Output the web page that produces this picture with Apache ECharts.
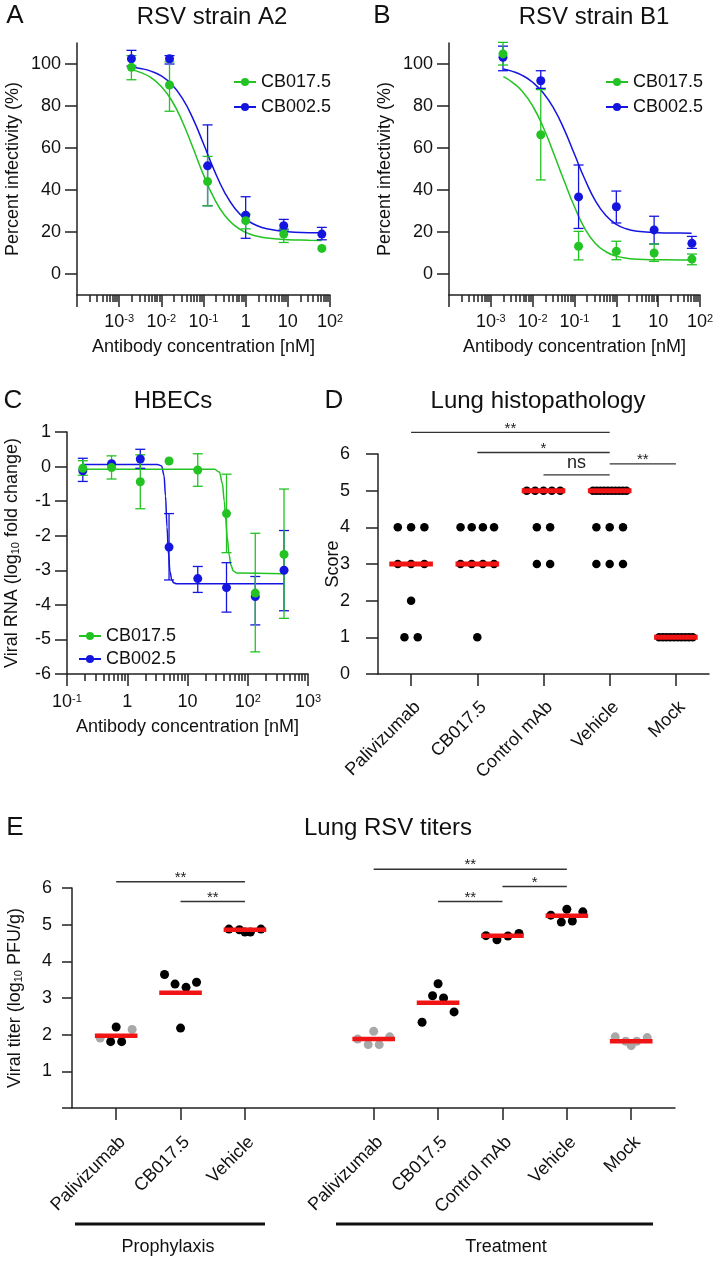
<!DOCTYPE html>
<html><head><meta charset="utf-8">
<script src="https://cdn.jsdelivr.net/npm/echarts@6/dist/echarts.min.js"></script>
<style>html,body{margin:0;padding:0;background:#fff}#chart{width:714px;height:1262px}</style>
</head><body><div id="chart"></div>
<script>
// ================= DATA =================
// Panels A/B – antibody concentration (nM), 8-fold dilution series
const concAB = [0.001953, 0.015625, 0.125, 1, 8, 64];
// A – RSV strain A2 (percent infectivity)
const a2CB0175   = [98.4, 90.0, 44.0, 25.4, 19.0, 12.2];
const a2CB0175Lo = [92.5, 77.5, 32.5, 21.5, 15.0, null];
const a2CB0175Hi = [104.0, 101.0, 56.0, 28.5, 21.5, null];
const a2CB0025   = [102.5, 102.5, 51.5, 28.0, 23.0, 19.0];
const a2CB0025Lo = [99.0, 100.0, 32.5, 17.0, 21.0, 16.3];
const a2CB0025Hi = [106.5, 104.0, 71.0, 36.8, 26.0, 22.2];
// B – RSV strain B1
const b1CB0175   = [104.8, 66.3, 13.2, 10.8, 10.0, 7.1];
const b1CB0175Lo = [99.5, 44.8, 6.7, 6.8, 6.0, 4.4];
const b1CB0175Hi = [110.3, 87.8, 20.3, 15.6, 14.3, 9.5];
const b1CB0025   = [103.2, 92.0, 36.7, 32.0, 21.0, 14.6];
const b1CB0025Lo = [96.8, 88.4, 21.7, 24.3, 14.3, 12.2];
const b1CB0025Hi = [108.5, 96.8, 51.9, 39.5, 27.5, 17.9];
// fitted curves (log10 nM, %)
const fitLogConcAB = [-2.7,-2.5,-2.25,-2,-1.75,-1.5,-1.25,-1,-0.75,-0.5,-0.25,0,0.25,0.5,1,1.5,1.8];
const a2FitCB0175 = [97.2,96.0,93.6,89.3,82.5,72.5,60.1,47.2,36.1,28.0,22.9,19.8,18.1,17.1,16.3,16.1,16.0];
const a2FitCB0025 = [98.6,97.9,96.6,94.3,90.2,83.6,74.0,62.0,49.6,38.9,31.1,26.1,23.2,21.5,20.1,19.7,19.6];
const b1FitCB0175 = [94.0,91.5,87.0,80.0,70.0,57.5,44.5,32.0,21.5,14.5,10.6,8.5,7.5,7.0,6.8,6.7,6.7];
const b1FitCB0025 = [97.6,96.6,94.6,91.3,86.3,79.0,69.0,57.0,45.0,34.8,27.8,23.6,21.4,20.4,19.7,19.5,19.4];

// C – HBECs, 3-fold dilution series (nM), viral RNA log10 fold change
const concC = [0.183, 0.549, 1.646, 4.94, 14.8, 44.4, 133.3, 400];
const hbecCB0175   = [-0.05, -0.03, -0.44, 0.16, -0.10, -1.36, -3.66, -2.54];
const hbecCB0175Lo = [-0.25, -0.36, -1.22, null, -0.57, -2.49, -5.36, -4.39];
const hbecCB0175Hi = [0.17, 0.31, 0.34, null, 0.37, -0.22, -1.93, -0.65];
const hbecCB0025   = [-0.12, 0.08, 0.22, -2.33, -3.24, -3.50, -3.76, -3.00];
const hbecCB0025Lo = [-0.43, null, -0.05, -3.28, -3.64, -4.21, -4.58, -4.17];
const hbecCB0025Hi = [0.24, null, 0.50, -1.36, -2.89, -2.78, -3.18, -1.85];
const hbecFitLogCB0175 = [-0.74, 1.45, 1.53, 1.58, 1.61, 1.635, 1.66, 1.69, 1.72, 1.76, 1.82, 2.6];
const hbecFitCB0175    = [-0.08, -0.08, -0.16, -0.5, -1.0, -1.55, -2.05, -2.55, -2.85, -3.02, -3.08, -3.1];
const hbecFitLogCB0025 = [-0.74, 0.5, 0.57, 0.61, 0.635, 0.66, 0.685, 0.71, 0.74, 0.77, 0.82, 2.6];
const hbecFitCB0025    = [0.06, 0.06, 0.02, -0.25, -0.85, -1.75, -2.55, -3.05, -3.28, -3.36, -3.39, -3.39];

// D – lung histopathology scores (one value per animal)
const dCategories = ['Palivizumab', 'CB017.5', 'Control mAb', 'Vehicle', 'Mock'];
const dPalivizumab = [4,4,4,3,3,3,2,1,1];
const dCB0175      = [4,4,4,4,3,3,3,3,1];
const dControlMAb  = [5,5,5,5,5,4,4,3,3];
const dVehicle     = [5,5,5,5,5,5,5,5,5,5,4,4,4,3,3,3];
const dMock        = [1,1,1,1,1,1,1,1,1,1];
const dMedians     = [3, 3, 5, 5, 1];
const dBrackets = [
  {from:0, to:3, y:6.59, label:'**'},
  {from:1, to:3, y:6.04, label:'*'},
  {from:2, to:3, y:5.43, label:'ns'},
  {from:3, to:4, y:5.73, label:'**'}
];

// E – lung RSV titers (log10 PFU/g); slot 3 is the gap between the two groups
const eCategories = ['Palivizumab','CB017.5','Vehicle','','Palivizumab','CB017.5','Control mAb','Vehicle','Mock'];
const eProphPalivizumab = [1.91, 1.81, 2.21, 1.81, 2.14];
const eProphPalivizumabBelowLimit = [true, false, false, false, true];
const eProphCB0175  = [3.64, 3.38, 2.18, 3.29, 3.43];
const eProphVehicle = [4.88, 4.86, 4.80, 4.80, 4.88];
const eTreatPalivizumab = [1.88, 1.73, 2.09, 1.73, 1.94];
const eTreatPalivizumabBelowLimit = [true, true, true, true, true];
const eTreatCB0175  = [2.34, 3.06, 3.39, 3.00, 2.62];
const eTreatControl = [4.70, 4.59, 4.69, 4.76];
const eTreatVehicle = [5.26, 5.07, 5.42, 5.10, 5.35];
const eTreatMock    = [1.94, 1.82, 1.70, 1.82, 1.92];
const eTreatMockBelowLimit = [true, true, true, true, true];
const eMeans = [1.97, 3.14, 4.86, null, 1.88, 2.87, 4.70, 5.24, 1.82];
const eBrackets = [
  {from:0, to:2, y:6.17, label:'**'},
  {from:1, to:2, y:5.63, label:'**'},
  {from:4, to:7, y:6.51, label:'**'},
  {from:6, to:7, y:6.04, label:'*'},
  {from:5, to:6, y:5.63, label:'**'}
];

// ================= STYLE / LAYOUT =================
const FONT = '"Liberation Sans", Arial, Helvetica, sans-serif';
const GREEN = '#22c322';
const BLUE = '#1515e0';
const INK = '#111111';
const AXIS = '#222222';
const RED = '#f01414';
const GRAY = '#a8a8a8';

const gridA = {left:77, top:43, width:253, height:252};
const gridB = {left:449, top:43, width:251, height:252};
const gridC = {left:67, top:432, width:241, height:242};
const gridD = {left:378, top:454, width:331, height:220};
const gridE = {left:72, top:888, width:603, height:220};
const E_MIN = -0.686, E_MAX = 8.68;

const chart = echarts.init(document.getElementById('chart'), null, {width:714, height:1262});

const supRich = {sup:{fontSize:11, verticalAlign:'top', lineHeight:12, fontFamily:FONT, color:INK}};
const subRich = {sub:{fontSize:11, verticalAlign:'bottom', lineHeight:12, fontFamily:FONT, color:INK}};

function g(r){ return Object.assign({containLabel:false, outerBoundsMode:'none'}, r); }
const axisLine = {show:true, onZero:false, lineStyle:{color:AXIS, width:1.5}};
function tick(len, extra){ return Object.assign({show:true, inside:false, length:len, lineStyle:{color:AXIS, width:1.5}}, extra||{}); }
function lbl(extra){ return Object.assign({color:INK, fontSize:18, fontFamily:FONT}, extra||{}); }
const nameStyle = {color:INK, fontSize:18, fontFamily:FONT, rich:Object.assign({}, subRich)};

function logLabel(v){
  const n = Math.round(v);
  if (n === 0) return '1';
  if (n === 1) return '10';
  return '10{sup|' + n + '}';
}
function minorTicks(from, to){
  const out = [];
  for (let d = from; d < to; d++) for (let k = 2; k <= 9; k++) out.push(d + Math.log10(k));
  return out;
}

function logXAxis(gi, min, max, hideFirst){
  return {gridIndex:gi, type:'value', min:min, max:max, interval:1,
    axisLine:axisLine, axisTick:tick(12), splitLine:{show:false},
    axisLabel:lbl({margin:18, rich:supRich, formatter:v => (hideFirst && Math.round(v) === min) ? '' : logLabel(v)}),
    name:'Antibody concentration [nM]', nameLocation:'middle', nameGap:43, nameMoveOverlap:false, nameTextStyle:nameStyle};
}
function minorXAxis(gi, min, max){
  return {gridIndex:gi, type:'value', min:min, max:max,
    axisLine:{show:false, onZero:false}, axisLabel:{show:false}, splitLine:{show:false},
    axisTick:tick(7, {customValues:minorTicks(min, max)})};
}
function hiddenY(gi){ return {gridIndex:gi, type:'value', show:false, min:0, max:1}; }

const pctTicks = [0,20,40,60,80,100];
function pctYAxis(gi){
  return {gridIndex:gi, type:'value', min:-10, max:110,
    axisLine:axisLine, axisTick:tick(12, {customValues:pctTicks}), splitLine:{show:false},
    axisLabel:lbl({margin:16, customValues:pctTicks}),
    name:'Percent infectivity (%)', nameLocation:'middle', nameGap:55, nameMoveOverlap:false, nameTextStyle:nameStyle};
}

// ---------- helper builders ----------
function pts(conc, vals){ return conc.map((c,i) => vals[i] == null ? null : [Math.log10(c), vals[i]]).filter(Boolean); }
function errs(conc, lo, hi){ return conc.map((c,i) => (lo[i] == null || hi[i] == null) ? null : [Math.log10(c), lo[i], hi[i]]).filter(Boolean); }
function fitPts(lx, vals){ return lx.map((l,i) => [l, vals[i]]); }

function errRender(color){
  return function(params, api){
    const x = api.value(0), lo = api.value(1), hi = api.value(2);
    const p1 = api.coord([x, lo]), p2 = api.coord([x, hi]);
    const w = 5;
    const st = {stroke:color, lineWidth:1.3};
    return {type:'group', children:[
      {type:'line', shape:{x1:p1[0], y1:p1[1], x2:p2[0], y2:p2[1]}, style:st},
      {type:'line', shape:{x1:p1[0]-w, y1:p1[1], x2:p1[0]+w, y2:p1[1]}, style:st},
      {type:'line', shape:{x1:p2[0]-w, y1:p2[1], x2:p2[0]+w, y2:p2[1]}, style:st}
    ]};
  };
}

function doseSeries(ai, name, color, conc, vals, lo, hi, fx, fy, sharp){
  const fitLine = {type:'line', name:name + ' fit', xAxisIndex:ai, yAxisIndex:ai, data:fitPts(fx, fy),
     showSymbol:false, symbol:'none', silent:true, lineStyle:{color:color, width:1.5}, z:2};
  if (sharp) { fitLine.smooth = 0.35; fitLine.smoothMonotone = 'x'; }
  else { fitLine.smooth = 0.5; }
  return [
    fitLine,
    {type:'custom', name:name + ' error', xAxisIndex:ai, yAxisIndex:ai, renderItem:errRender(color),
     data:errs(conc, lo, hi), encode:{x:0, y:[1,2]}, silent:true, z:3},
    {type:'scatter', name:name + ' mean', xAxisIndex:ai, yAxisIndex:ai, data:pts(conc, vals),
     symbol:'circle', symbolSize:9, itemStyle:{color:color, opacity:1}, silent:true, z:4}
  ];
}

function barRender(halfWidth, thick){
  return function(params, api){
    const c = api.coord([api.value(0), api.value(1)]);
    return {type:'line', shape:{x1:c[0]-halfWidth, y1:c[1], x2:c[0]+halfWidth, y2:c[1]},
      style:{stroke:RED, lineWidth:thick}};
  };
}
function bracketRender(list){
  return function(params, api){
    const b = list[params.dataIndex];
    const p1 = api.coord([b.from, b.y]), p2 = api.coord([b.to, b.y]);
    const ns = b.label === 'ns';
    return {type:'group', children:[
      {type:'line', shape:{x1:p1[0], y1:p1[1], x2:p2[0], y2:p1[1]}, style:{stroke:'#333', lineWidth:1.4}},
      {type:'text', x:(p1[0]+p2[0])/2, y:p1[1] - (ns ? 12 : 4),
       style:{text:b.label, fill:'#222', font:(ns ? 18 : 15) + 'px ' + FONT,
              align:'center', verticalAlign:'middle', textAlign:'center', textVerticalAlign:'middle'}}
    ]};
  };
}

// D dots: identical scores spread side by side in a row
const D_PX = gridD.width / 5;
function rowSpread(values, cat){
  const counts = {};
  values.forEach(v => { counts[v] = (counts[v] || 0) + 1; });
  const out = [];
  Object.keys(counts).forEach(k => {
    const n = counts[k];
    const sp = n > 1 ? Math.min(13.3, 33.5 / (n - 1)) : 0;
    for (let i = 0; i < n; i++) out.push([cat + (i - (n - 1) / 2) * sp / D_PX, +k]);
  });
  return out;
}
const dDots = [];
[dPalivizumab, dCB0175, dControlMAb, dVehicle, dMock].forEach((arr, i) => dDots.push(...rowSpread(arr, i)));

// E dots
const E_PX = gridE.width / (E_MAX - E_MIN);
const SPREAD = {4:[-16.5,-5.5,5.5,16.5], 5:[-16,-5.5,0,5.5,16]};
const eGroups = [
  {slot:0, v:eProphPalivizumab, gray:eProphPalivizumabBelowLimit},
  {slot:1, v:eProphCB0175},
  {slot:2, v:eProphVehicle},
  {slot:4, v:eTreatPalivizumab, gray:eTreatPalivizumabBelowLimit},
  {slot:5, v:eTreatCB0175},
  {slot:6, v:eTreatControl},
  {slot:7, v:eTreatVehicle},
  {slot:8, v:eTreatMock, gray:eTreatMockBelowLimit}
];
const eBlack = [], eGray = [];
eGroups.forEach(gr => {
  const offs = SPREAD[gr.v.length];
  gr.v.forEach((val, i) => {
    const p = [gr.slot + offs[i] / E_PX, val];
    (gr.gray && gr.gray[i] ? eGray : eBlack).push(p);
  });
});
const eTickSlots = eCategories.map((c,i) => c ? i : null).filter(i => i !== null);

// ================= OPTION =================
const option = {
  animation:false,
  backgroundColor:'#ffffff',
  textStyle:{fontFamily:FONT},
  grid:[g(gridA), g(gridA), g(gridB), g(gridB), g(gridC), g(gridC), g(gridD), g(gridE)],
  xAxis:[
    logXAxis(0, -4, 2, true),
    minorXAxis(1, -4, 2),
    logXAxis(2, -4, 2, true),
    minorXAxis(3, -4, 2),
    Object.assign(logXAxis(4, -1, 3, false), {nameGap:44, axisLabel:lbl({margin:19, rich:supRich, formatter:logLabel})}),
    minorXAxis(5, -1, 3),
    {gridIndex:6, type:'value', min:-0.5, max:4.5, axisLine:axisLine, splitLine:{show:false},
     axisTick:tick(12, {customValues:[0,1,2,3,4]}),
     axisLabel:lbl({customValues:[0,1,2,3,4], rotate:45, margin:24, verticalAlign:'top',
                    formatter:v => dCategories[Math.round(v)]})},
    {gridIndex:7, type:'value', min:E_MIN, max:E_MAX, axisLine:axisLine, splitLine:{show:false},
     axisTick:tick(12, {customValues:eTickSlots}),
     axisLabel:lbl({customValues:eTickSlots, rotate:45, margin:25, verticalAlign:'top',
                    formatter:v => eCategories[Math.round(v)]})}
  ],
  yAxis:[
    pctYAxis(0),
    hiddenY(1),
    pctYAxis(2),
    hiddenY(3),
    {gridIndex:4, type:'value', min:-6, max:1, interval:1, axisLine:axisLine, axisTick:tick(12),
     splitLine:{show:false}, axisLabel:lbl({margin:16}),
     name:'Viral RNA (log{sub|10} fold change)', nameLocation:'middle', nameGap:46, nameMoveOverlap:false, nameTextStyle:nameStyle},
    hiddenY(5),
    {gridIndex:6, type:'value', min:0, max:6, interval:1, axisLine:axisLine, axisTick:tick(12),
     splitLine:{show:false}, axisLabel:lbl({margin:28}),
     name:'Score', nameLocation:'middle', nameGap:36, nameMoveOverlap:false, nameTextStyle:nameStyle},
    {gridIndex:7, type:'value', min:0, max:6, interval:1, axisLine:axisLine, axisTick:tick(10),
     splitLine:{show:false}, axisLabel:lbl({margin:20, formatter:v => v === 0 ? '' : String(v)}),
     name:'Viral titer (log{sub|10} PFU/g)', nameLocation:'middle', nameGap:48, nameMoveOverlap:false, nameTextStyle:nameStyle}
  ],
  legend:[
    {left:233, top:73, orient:'vertical', itemGap:7, itemWidth:22, itemHeight:10, padding:0, selectedMode:false,
     data:['CB017.5','CB002.5'], textStyle:{fontSize:18, fontFamily:FONT, color:INK}},
    {left:605, top:73, orient:'vertical', itemGap:7, itemWidth:22, itemHeight:10, padding:0, selectedMode:false,
     data:['CB017.5','CB002.5'], textStyle:{fontSize:18, fontFamily:FONT, color:INK}},
    {left:78, top:627, orient:'vertical', itemGap:5, itemWidth:22, itemHeight:10, padding:0, selectedMode:false,
     data:['CB017.5','CB002.5'], textStyle:{fontSize:18, fontFamily:FONT, color:INK}}
  ],
  series:[
    {type:'line', name:'CB017.5', xAxisIndex:0, yAxisIndex:0, data:[], symbol:'circle', symbolSize:9,
     itemStyle:{color:GREEN}, lineStyle:{color:GREEN, width:1.5}},
    {type:'line', name:'CB002.5', xAxisIndex:0, yAxisIndex:0, data:[], symbol:'circle', symbolSize:9,
     itemStyle:{color:BLUE}, lineStyle:{color:BLUE, width:1.5}},
    // A
    ...doseSeries(0, 'A2 CB002.5', BLUE, concAB, a2CB0025, a2CB0025Lo, a2CB0025Hi, fitLogConcAB, a2FitCB0025, false),
    ...doseSeries(0, 'A2 CB017.5', GREEN, concAB, a2CB0175, a2CB0175Lo, a2CB0175Hi, fitLogConcAB, a2FitCB0175, false),
    // B
    ...doseSeries(2, 'B1 CB002.5', BLUE, concAB, b1CB0025, b1CB0025Lo, b1CB0025Hi, fitLogConcAB, b1FitCB0025, false),
    ...doseSeries(2, 'B1 CB017.5', GREEN, concAB, b1CB0175, b1CB0175Lo, b1CB0175Hi, fitLogConcAB, b1FitCB0175, false),
    // C
    ...doseSeries(4, 'HBEC CB002.5', BLUE, concC, hbecCB0025, hbecCB0025Lo, hbecCB0025Hi, hbecFitLogCB0025, hbecFitCB0025, true),
    ...doseSeries(4, 'HBEC CB017.5', GREEN, concC, hbecCB0175, hbecCB0175Lo, hbecCB0175Hi, hbecFitLogCB0175, hbecFitCB0175, true),
    // D
    {type:'scatter', name:'Histopathology scores', xAxisIndex:6, yAxisIndex:6, data:dDots, symbolSize:8.5,
     itemStyle:{color:'#000', opacity:1}, silent:true, z:3},
    {type:'custom', name:'Histopathology median', xAxisIndex:6, yAxisIndex:6, renderItem:barRender(21.8, 5),
     data:dMedians.map((m,i) => [i, m]), encode:{x:0, y:1}, silent:true, z:5},
    {type:'custom', name:'Histopathology significance', xAxisIndex:6, yAxisIndex:6, renderItem:bracketRender(dBrackets),
     data:dBrackets.map(b => [b.from, b.to, b.y]), encode:{x:[0,1], y:2}, silent:true, clip:false, z:5},
    // E
    {type:'scatter', name:'Titers', xAxisIndex:7, yAxisIndex:7, data:eBlack, symbolSize:9,
     itemStyle:{color:'#000', opacity:1}, silent:true, z:3},
    {type:'scatter', name:'Titers below limit', xAxisIndex:7, yAxisIndex:7, data:eGray, symbolSize:9,
     itemStyle:{color:GRAY, opacity:1}, silent:true, z:3},
    {type:'custom', name:'Titer mean', xAxisIndex:7, yAxisIndex:7, renderItem:barRender(21.3, 4.5),
     data:eMeans.map((m,i) => m == null ? null : [i, m]).filter(Boolean), encode:{x:0, y:1}, silent:true, z:5},
    {type:'custom', name:'Titer significance', xAxisIndex:7, yAxisIndex:7, renderItem:bracketRender(eBrackets),
     data:eBrackets.map(b => [b.from, b.to, b.y]), encode:{x:[0,1], y:2}, silent:true, clip:false, z:5}
  ],
  graphic:[]
};

function txt(s, x, y, size){
  return {type:'text', x:x, y:y, silent:true,
    style:{text:s, fill:INK, font:size + 'px ' + FONT, align:'center', verticalAlign:'middle',
           textAlign:'center', textVerticalAlign:'middle'}};
}
option.graphic = [
  txt('A', 15, 16, 26), txt('RSV strain A2', 212, 17, 24),
  txt('B', 382, 16, 26), txt('RSV strain B1', 594, 17, 24),
  txt('C', 13, 401, 26), txt('HBECs', 173, 401, 24),
  txt('D', 334, 401, 26), txt('Lung histopathology', 538, 401, 24),
  txt('E', 15, 828, 26), txt('Lung RSV titers', 388, 828, 24),
  {type:'line', silent:true, shape:{x1:75, y1:1224, x2:265, y2:1224}, style:{stroke:'#111', lineWidth:3}},
  {type:'line', silent:true, shape:{x1:336, y1:1224, x2:653, y2:1224}, style:{stroke:'#111', lineWidth:3}},
  txt('Prophylaxis', 168, 1247, 18), txt('Treatment', 506, 1247, 18)
];

chart.setOption(option);
</script>
</body></html>
